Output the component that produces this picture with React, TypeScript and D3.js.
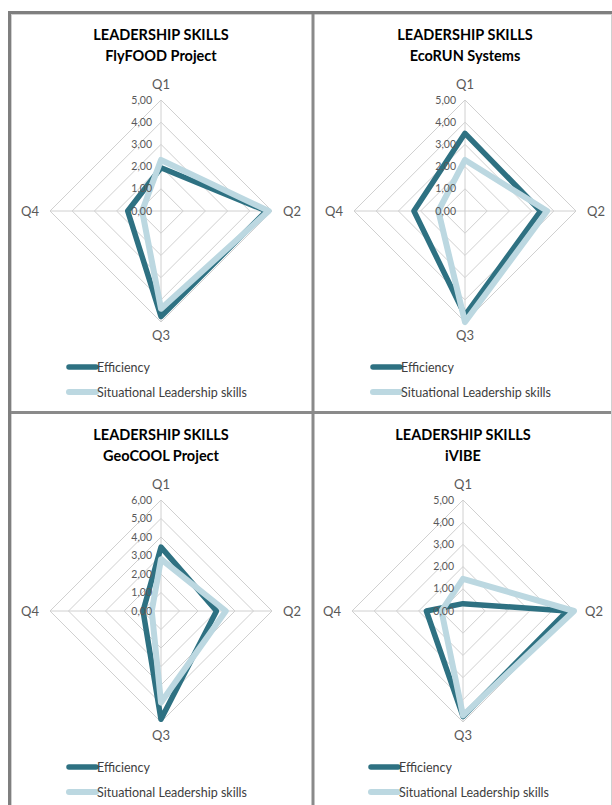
import React from "react";
import * as d3 from "d3";

const axes = ["Q1", "Q2", "Q3", "Q4"];
const seriesNames = ["Efficiency", "Situational Leadership skills"];
const titles = ["FlyFOOD Project", "EcoRUN Systems", "GeoCOOL Project", "iVIBE"];
const maxValues = [5, 5, 6, 5];

const efficiency = [
  [1.95, 4.75, 4.75, 1.5],
  [3.5, 3.4, 4.7, 2.3],
  [3.45, 3.0, 5.85, 0.97],
  [0.33, 4.7, 4.75, 1.65],
];
const situational = [
  [2.3, 4.85, 4.4, 0.85],
  [2.3, 3.7, 5.0, 1.2],
  [2.8, 3.5, 4.95, 0.5],
  [1.45, 5.0, 4.7, 0.97],
];

const DARK = "#2e7182";
const LIGHT = "#bcd8e1";
const GRID = "#d0d0d0";
const FONT = "Lato, 'Open Sans', sans-serif";

function Radar({ ox, oy, idx }: { ox: number; oy: number; idx: number }) {
  const cx = 161;
  const cy = 211;
  const R = 111;
  const maxV = maxValues[idx];
  const r = d3.scaleLinear().domain([0, maxV]).range([0, R]);
  const angle = (i: number) => (i * 2 * Math.PI) / axes.length;
  const pt = (v: number, i: number): [number, number] => [
    cx + r(v) * Math.sin(angle(i)),
    cy - r(v) * Math.cos(angle(i)),
  ];
  const ticks = d3.range(0, maxV + 1);
  const closed = d3.line().curve(d3.curveLinearClosed);
  const series = [efficiency[idx], situational[idx]];
  const colors = [DARK, LIGHT];
  const widths = [5.5, 6];
  const labelPos: [number, number, string][] = [
    [cx, cy - R - 11, "middle"],
    [cx + R + 11, cy + 4.5, "start"],
    [cx, cy + R + 18, "middle"],
    [cx - R - 11, cy + 4.5, "end"],
  ];
  return (
    <g transform={`translate(${ox},${oy})`}>
      <text x={cx} y={40} textAnchor="middle" fontFamily={FONT} fontWeight="bold" fontSize={14.5} fill="#000">
        LEADERSHIP SKILLS
      </text>
      <text x={cx} y={61} textAnchor="middle" fontFamily={FONT} fontWeight="bold" fontSize={14.5} fill="#000">
        {titles[idx]}
      </text>
      {ticks.slice(1).map((t) => (
        <path
          key={t}
          d={closed(axes.map((_, i) => pt(t, i))) || ""}
          fill="none"
          stroke={GRID}
          strokeWidth={1}
        />
      ))}
      {axes.map((_, i) => {
        const [x, y] = pt(maxV, i);
        return <line key={i} x1={cx} y1={cy} x2={x} y2={y} stroke={GRID} strokeWidth={1} />;
      })}
      {axes.map((a, i) => (
        <text
          key={a}
          x={labelPos[i][0]}
          y={labelPos[i][1]}
          textAnchor={labelPos[i][2] as any}
          fontFamily={FONT}
          fontSize={13}
          fill="#595959"
        >
          {a}
        </text>
      ))}
      {series.map((vals, s) => (
        <path
          key={s}
          d={closed(vals.map((v, i) => pt(v, i))) || ""}
          fill="none"
          stroke={colors[s]}
          strokeWidth={widths[s]}
          strokeLinejoin="round"
        />
      ))}
      {ticks.map((t) => (
        <text
          key={t}
          x={cx - 9}
          y={cy - r(t) + 3.5}
          textAnchor="end"
          fontFamily={FONT}
          fontSize={10.5}
          fill="#595959"
        >
          {t.toFixed(2).replace(".", ",")}
        </text>
      ))}
      {seriesNames.map((n, s) => (
        <g key={n}>
          <line
            x1={69}
            x2={96}
            y1={367 + s * 25}
            y2={367 + s * 25}
            stroke={colors[s]}
            strokeWidth={widths[s]}
            strokeLinecap="round"
          />
          <text x={97} y={371.5 + s * 25} fontFamily={FONT} fontSize={12.5} fill="#404040">
            {n}
          </text>
        </g>
      ))}
    </g>
  );
}

export default function App() {
  const origins: [number, number][] = [
    [0, 0],
    [304, 0],
    [0, 400],
    [302, 400],
  ];
  return (
    <svg
      width={612}
      height={805}
      style={{ position: "absolute", left: 0, top: 0, background: "#fff" }}
    >
      <rect x={0} y={0} width={612} height={805} fill="#fff" />
      {origins.map(([x, y], i) => (
        <Radar key={i} ox={x} oy={y} idx={i} />
      ))}
      {/* frame lines */}
      <line x1={8} x2={612} y1={12.5} y2={12.5} stroke="#7f7f7f" strokeWidth={3} />
      <line x1={8} x2={612} y1={14.5} y2={14.5} stroke="#d0d0d0" strokeWidth={1} />
      <line x1={9.5} x2={9.5} y1={11} y2={805} stroke="#7f7f7f" strokeWidth={3} />
      <line x1={11.5} x2={11.5} y1={14} y2={805} stroke="#d0d0d0" strokeWidth={1} />
      <line x1={313} x2={313} y1={14} y2={805} stroke="#8a8a8a" strokeWidth={3} />
      <line x1={11} x2={612} y1={412.5} y2={412.5} stroke="#8a8a8a" strokeWidth={3} />
      <line x1={611.5} x2={611.5} y1={14} y2={805} stroke="#d0d0d0" strokeWidth={1} />
    </svg>
  );
}
